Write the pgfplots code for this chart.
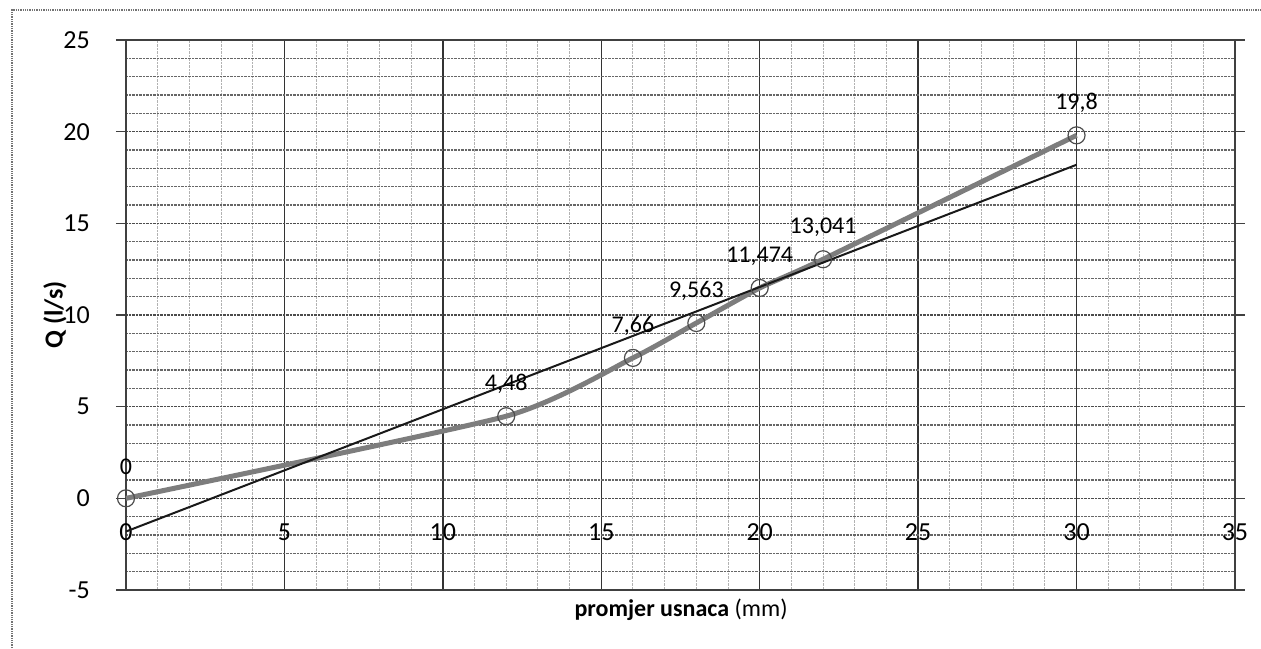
\documentclass[border=0pt]{standalone}
\usepackage{pgfplots}
\pgfplotsset{compat=1.18}
\usepackage{fontspec}
\setmainfont{Carlito}

\definecolor{seriesgray}{RGB}{125,125,125}

\begin{document}
\begin{tikzpicture}
% picture is 1261 x 648 (1pt per pixel), axis corner at (0,0)
\useasboundingbox (-126pt,-58pt) rectangle (1135pt,590pt);
\draw[black!55, densely dotted, line width=1.3pt] (-114pt,-58pt) -- (-114pt,580pt) -- (1135pt,580pt);

\begin{axis}[
    scale only axis,
    width=1109pt, height=550pt,
    xmin=0, xmax=35, ymin=-5, ymax=25,
    xtick={0,5,...,35}, ytick={-5,0,...,25},
    minor x tick num=4, minor y tick num=4,
    grid=both,
    major x grid style={black!80, line width=1.3pt},
    minor x grid style={black!30, densely dotted, line width=1pt},
    major y grid style={black!70, densely dotted, line width=1.6pt},
    minor y grid style={black!60, densely dotted, line width=1.3pt},
    axis line style={black!75, line width=1.4pt},
    tick style={black!75, line width=1.3pt},
    major tick length=10pt, minor tick length=0pt,
    tick align=outside,
    xtick style={draw=none},
    /pgf/number format/assume math mode=true,
    tick label style={font=\fontsize{26}{30}\selectfont},
    yticklabel style={anchor=east, inner sep=0pt, xshift=-26pt},
    xticklabel style={anchor=center, inner sep=0pt, yshift=68pt},
    xlabel={\textbf{promjer usnaca} (mm)},
    ylabel={\textbf{Q (l/s)}},
    label style={font=\fontsize{24}{28}\selectfont},
    xlabel style={at={(axis description cs:0.5005,-0.0364)}, anchor=center, inner sep=0pt},
    ylabel style={at={(axis description cs:-0.064,0.5)}, anchor=center, inner sep=0pt, font=\fontsize{26}{30}\selectfont},
    clip=false,
]
\addplot[smooth, tension=0.35, line width=5pt, color=seriesgray,
    mark=o, mark size=8.5pt,
    mark options={draw=black!70, line width=1.2pt, fill=none, solid},
    nodes near coords, point meta=explicit symbolic,
    every node near coord/.append style={font=\fontsize{24}{28}\selectfont,
        text=black, anchor=center, inner sep=0pt, yshift=32pt}]
    coordinates {
    (0,0) [0]
    (12,4.48) [{4,48}]
    (16,7.66) [{7,66}]
    (18,9.563) [{9,563}]
    (20,11.474) [{11,474}]
    (22,13.041) [{13,041}]
    (30,19.8) [{19,8}]
    };
% linear trendline
\addplot[black!90, line width=2pt] coordinates {(0,-1.809) (30,18.195)};
\end{axis}
\end{tikzpicture}
\end{document}
